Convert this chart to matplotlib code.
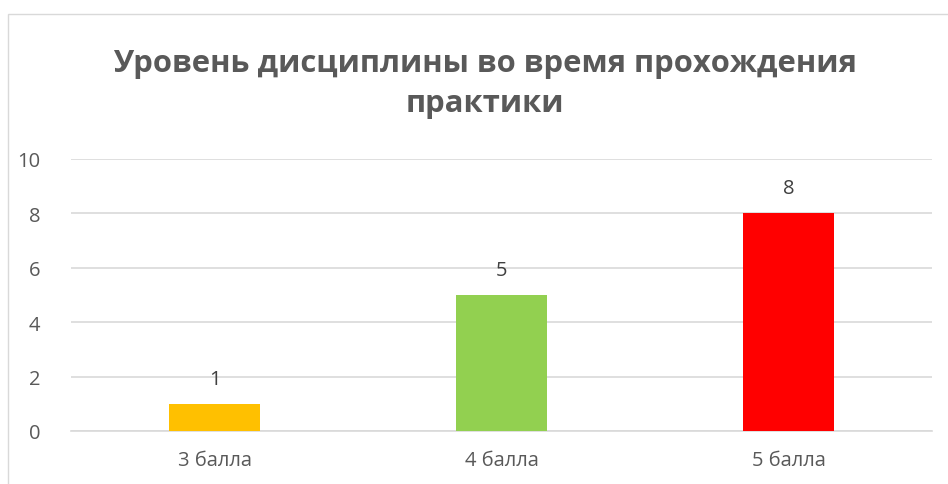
import matplotlib.pyplot as plt
from matplotlib.patches import Rectangle

# data
categories = ['3 балла', '4 балла', '5 балла']
values = [1, 5, 8]
colors = ['#FFC000', '#92D050', '#FF0000']
yticks = [0, 2, 4, 6, 8, 10]

plt.rcParams['font.family'] = ['Open Sans', 'DejaVu Sans']

W, H = 948, 485
fig = plt.figure(figsize=(W / 100, H / 100), dpi=100)

# chart area border (only left and top visible in the reference)
fig.patches.append(Rectangle((7.5 / W, -0.1), 1.2, (H - 15) / H + 0.1,
                             transform=fig.transFigure, fill=False,
                             edgecolor='#d9d9d9', linewidth=1.0))

ax = fig.add_axes([71 / W, (H - 432) / H, (932 - 71) / W, (432 - 160) / H])

x = range(len(categories))
bars = ax.bar(x, values, width=0.317, color=colors, zorder=3)

for b, v in zip(bars, values):
    ax.annotate(str(v), (b.get_x() + b.get_width() / 2, v),
                xytext=(0, 11), textcoords='offset points',
                ha='center', va='bottom', fontsize=14.5, color='#404040')

ax.set_xlim(-0.5, 2.5)
ax.set_ylim(0, 10)
ax.set_yticks(yticks)
ax.set_xticks(list(x))
ax.set_xticklabels(categories)
ax.yaxis.grid(True, color='#d9d9d9', linewidth=1.2, zorder=0)
ax.tick_params(length=0, labelsize=14.5, labelcolor='#595959')
ax.tick_params(axis='y', pad=22)
ax.tick_params(axis='x', pad=14)
for s in ['top', 'right', 'left']:
    ax.spines[s].set_visible(False)
ax.spines['bottom'].set_color('#d9d9d9')
ax.spines['bottom'].set_linewidth(1.2)

fig.text(485 / W, 1 - 84 / H, 'Уровень дисциплины во время прохождения\nпрактики',
         ha='center', va='center', fontsize=22.3, fontweight='bold',
         color='#595959', linespacing=1.4)

fig.savefig('out.png', dpi=100)
